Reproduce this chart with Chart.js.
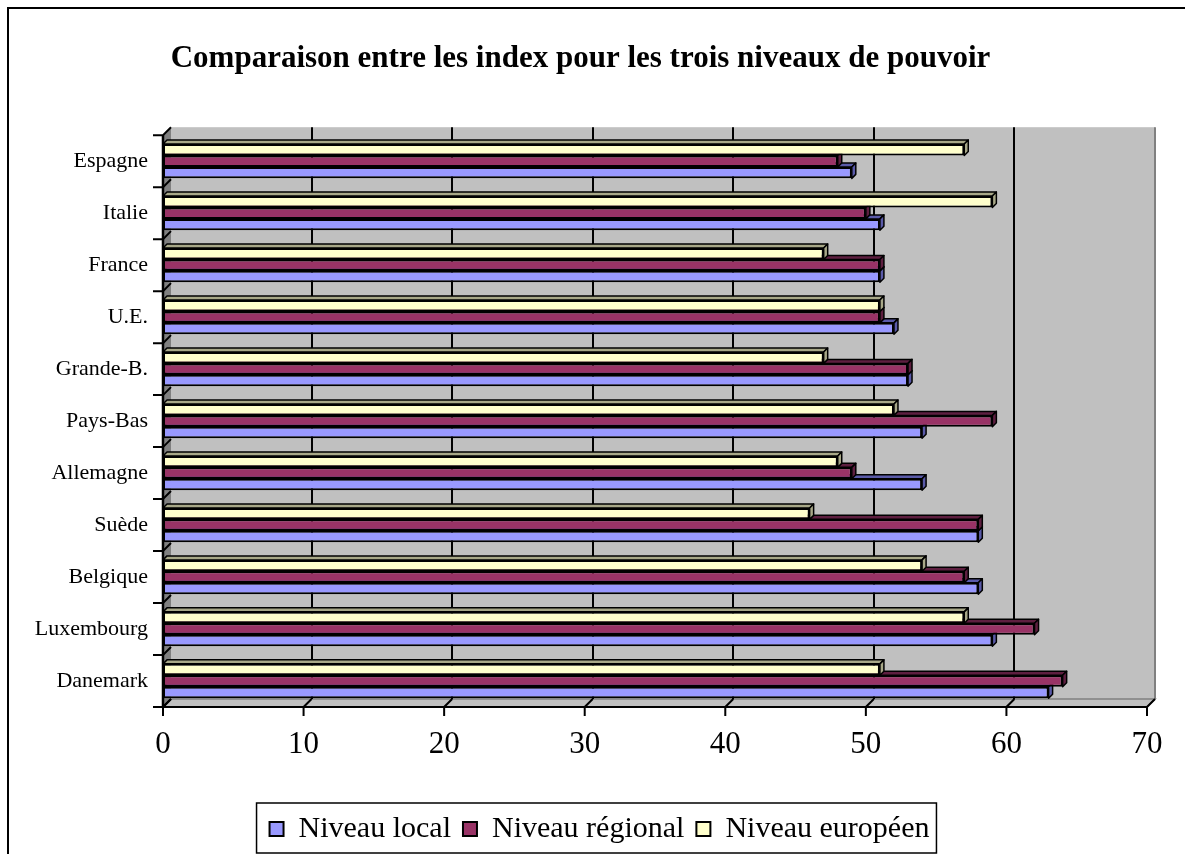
<!DOCTYPE html>
<html>
<head>
<meta charset="utf-8">
<script src="https://cdn.jsdelivr.net/npm/chart.js@4.4.1/dist/chart.umd.min.js"></script>
<style>
  html, body { margin: 0; padding: 0; background: #fff; }
</style>
</head>
<body>
<canvas id="index_chart" width="1185" height="854"></canvas>
<script>
const countries = ["Espagne", "Italie", "France", "U.E.", "Grande-B.", "Pays-Bas", "Allemagne", "Suède", "Belgique", "Luxembourg", "Danemark"];
const local_values = [49, 51, 51, 52, 53, 54, 54, 58, 58, 59, 63];
const regional_values = [48, 50, 51, 51, 53, 59, 49, 58, 57, 62, 64];
const european_values = [57, 59, 47, 51, 47, 52, 48, 46, 54, 57, 51];
const x_ticks = [0, 10, 20, 30, 40, 50, 60, 70];

const serif = "'Liberation Serif', 'Times New Roman', serif";
const depth = 8;   // 3D offset of the back wall
const bar_depth = 4;
const legend_shift = 19;

// darker colours for the end / top faces of the 3D bars
const face_colors = {
  "Niveau local": "#5a5aa8",
  "Niveau régional": "#5e1f40",
  "Niveau européen": "#a8a888",
};

const wall_plugin = {
  id: "wall_plugin",
  beforeDraw(chart) {
    const ctx = chart.ctx;
    ctx.save();
    ctx.fillStyle = "#ffffff";
    ctx.fillRect(0, 0, chart.width, chart.height);
    ctx.strokeStyle = "#000000";
    ctx.lineWidth = 2;
    ctx.strokeRect(8, 8, chart.width + 20, chart.height + 20);
    ctx.restore();
    // legend box sits a little right of the centre in the original
    chart.legend.left += legend_shift;
    chart.legend.right += legend_shift;
  },
  beforeDatasetsDraw(chart) {
    const { ctx, chartArea: a, scales: { x, y } } = chart;
    const d = depth;
    ctx.save();
    // back wall
    ctx.fillStyle = "#c0c0c0";
    ctx.fillRect(a.left + d, a.top - d, a.right - a.left, a.bottom - a.top);
    ctx.strokeStyle = "#808080";
    ctx.lineWidth = 2;
    ctx.beginPath();
    ctx.moveTo(a.right + d, a.top - d);
    ctx.lineTo(a.right + d, a.bottom - d);
    ctx.stroke();
    // side wall
    ctx.fillStyle = "#808080";
    ctx.beginPath();
    ctx.moveTo(a.left, a.top);
    ctx.lineTo(a.left + d, a.top - d);
    ctx.lineTo(a.left + d, a.bottom - d);
    ctx.lineTo(a.left, a.bottom);
    ctx.closePath();
    ctx.fill();
    // floor
    ctx.fillStyle = "#c0c0c0";
    ctx.beginPath();
    ctx.moveTo(a.left, a.bottom);
    ctx.lineTo(a.left + d, a.bottom - d);
    ctx.lineTo(a.right + d, a.bottom - d);
    ctx.lineTo(a.right, a.bottom);
    ctx.closePath();
    ctx.fill();
    ctx.strokeStyle = "#808080";
    ctx.lineWidth = 1.5;
    ctx.stroke();
    // grid lines on the back wall
    ctx.strokeStyle = "#000000";
    ctx.lineWidth = 2;
    x_ticks.forEach((v) => {
      if (v === x.min || v === x.max) return;
      const px = Math.round(x.getPixelForValue(v) + d);
      ctx.beginPath();
      ctx.moveTo(px, a.top - d);
      ctx.lineTo(px, a.bottom - d);
      ctx.stroke();
    });
    // x axis with ticks
    ctx.lineWidth = 2;
    ctx.beginPath();
    ctx.moveTo(a.left, a.bottom);
    ctx.lineTo(a.right, a.bottom);
    x_ticks.forEach((v) => {
      const px = x.getPixelForValue(v);
      ctx.moveTo(px, a.bottom + 9);
      ctx.lineTo(px, a.bottom);
      ctx.lineTo(px + d, a.bottom - d);
    });
    ctx.stroke();
    // y axis with ticks between categories
    const band = y.getPixelForValue(1) - y.getPixelForValue(0);
    ctx.lineWidth = 2.5;
    ctx.beginPath();
    ctx.moveTo(a.left, a.top);
    ctx.lineTo(a.left, a.bottom);
    ctx.stroke();
    ctx.lineWidth = 2;
    ctx.beginPath();
    for (let i = 0; i <= countries.length; i++) {
      const yb = y.getPixelForValue(0) - band / 2 + i * band;
      ctx.moveTo(a.left - 10, yb);
      ctx.lineTo(a.left, yb);
      ctx.lineTo(a.left + d, yb - d);
    }
    ctx.stroke();
    ctx.restore();
  },
  afterDatasetDraw(chart, args) {
    const ctx = chart.ctx;
    const ds = chart.data.datasets[args.index];
    const d = bar_depth;
    ctx.save();
    ctx.strokeStyle = "#000000";
    ctx.lineWidth = 1.5;
    ctx.lineJoin = "round";
    args.meta.data.forEach((bar) => {
      const { x, y, base, height } = bar.getProps(["x", "y", "base", "height"], true);
      const t = y - height / 2;
      const b = y + height / 2;
      // top face
      ctx.fillStyle = face_colors[ds.label];
      ctx.beginPath();
      ctx.moveTo(base, t);
      ctx.lineTo(base + d, t - d);
      ctx.lineTo(x + d, t - d);
      ctx.lineTo(x, t);
      ctx.closePath();
      ctx.fill();
      ctx.stroke();
      // end face
      ctx.beginPath();
      ctx.moveTo(x, t);
      ctx.lineTo(x + d, t - d);
      ctx.lineTo(x + d, b - d);
      ctx.lineTo(x, b);
      ctx.closePath();
      ctx.fill();
      ctx.stroke();
    });
    ctx.restore();
  },
  afterDraw(chart) {
    const boxes = chart.legend.legendHitBoxes;
    if (!boxes || !boxes.length) return;
    const ctx = chart.ctx;
    let left = Infinity, right = -Infinity, top = Infinity, bottom = -Infinity;
    boxes.forEach((hb) => {
      left = Math.min(left, hb.left);
      right = Math.max(right, hb.left + hb.width);
      top = Math.min(top, hb.top);
      bottom = Math.max(bottom, hb.top + hb.height);
    });
    // hit boxes were placed before the shift
    left += legend_shift;
    right += legend_shift;
    ctx.save();
    ctx.strokeStyle = "#000000";
    ctx.lineWidth = 1.5;
    ctx.strokeRect(left - 13, top - 11, right - left + 20, bottom - top + 20);
    ctx.restore();
  },
};

const index_ctx = document.getElementById("index_chart");

const index_chart = new Chart(index_ctx, {
  type: "bar",
  data: {
    labels: countries,
    datasets: [
      {
        label: "Niveau européen",
        data: european_values,
        backgroundColor: "#ffffcc",
        borderColor: "#000000",
        borderWidth: 2,
        borderSkipped: false,
      },
      {
        label: "Niveau régional",
        data: regional_values,
        backgroundColor: "#993366",
        borderColor: "#000000",
        borderWidth: 2,
        borderSkipped: false,
      },
      {
        label: "Niveau local",
        data: local_values,
        backgroundColor: "#9999ff",
        borderColor: "#000000",
        borderWidth: 2,
        borderSkipped: false,
      },
    ],
  },
  options: {
    indexAxis: "y",
    responsive: false,
    animation: false,
    devicePixelRatio: 1,
    categoryPercentage: 0.66,
    barPercentage: 1,
    layout: {
      padding: { left: 14, right: 38, top: 0, bottom: 0 },
    },
    plugins: {
      title: {
        display: true,
        text: "Comparaison entre les index pour les trois niveaux de pouvoir",
        color: "#000000",
        font: { family: serif, size: 31, weight: "bold" },
        padding: { top: 40, bottom: 58 },
      },
      legend: {
        position: "bottom",
        reverse: true,
        labels: {
          color: "#000000",
          font: { family: serif, size: 30 },
          boxWidth: 14,
          boxHeight: 14,
          padding: 12,
        },
      },
      tooltip: { enabled: false },
    },
    scales: {
      x: {
        type: "linear",
        min: 0,
        max: 70,
        ticks: {
          stepSize: 10,
          color: "#000000",
          font: { family: serif, size: 31 },
          padding: 19,
          maxRotation: 0,
        },
        grid: { display: false, drawTicks: false },
        border: { display: false },
        afterFit: (scale) => {
          scale.height = 95;
        },
      },
      y: {
        ticks: {
          color: "#000000",
          font: { family: serif, size: 22 },
          padding: 15,
        },
        grid: { display: false, drawTicks: false },
        border: { display: false },
        afterFit: (scale) => {
          scale.width = 149;
        },
      },
    },
  },
  plugins: [wall_plugin],
});
</script>
</body>
</html>
